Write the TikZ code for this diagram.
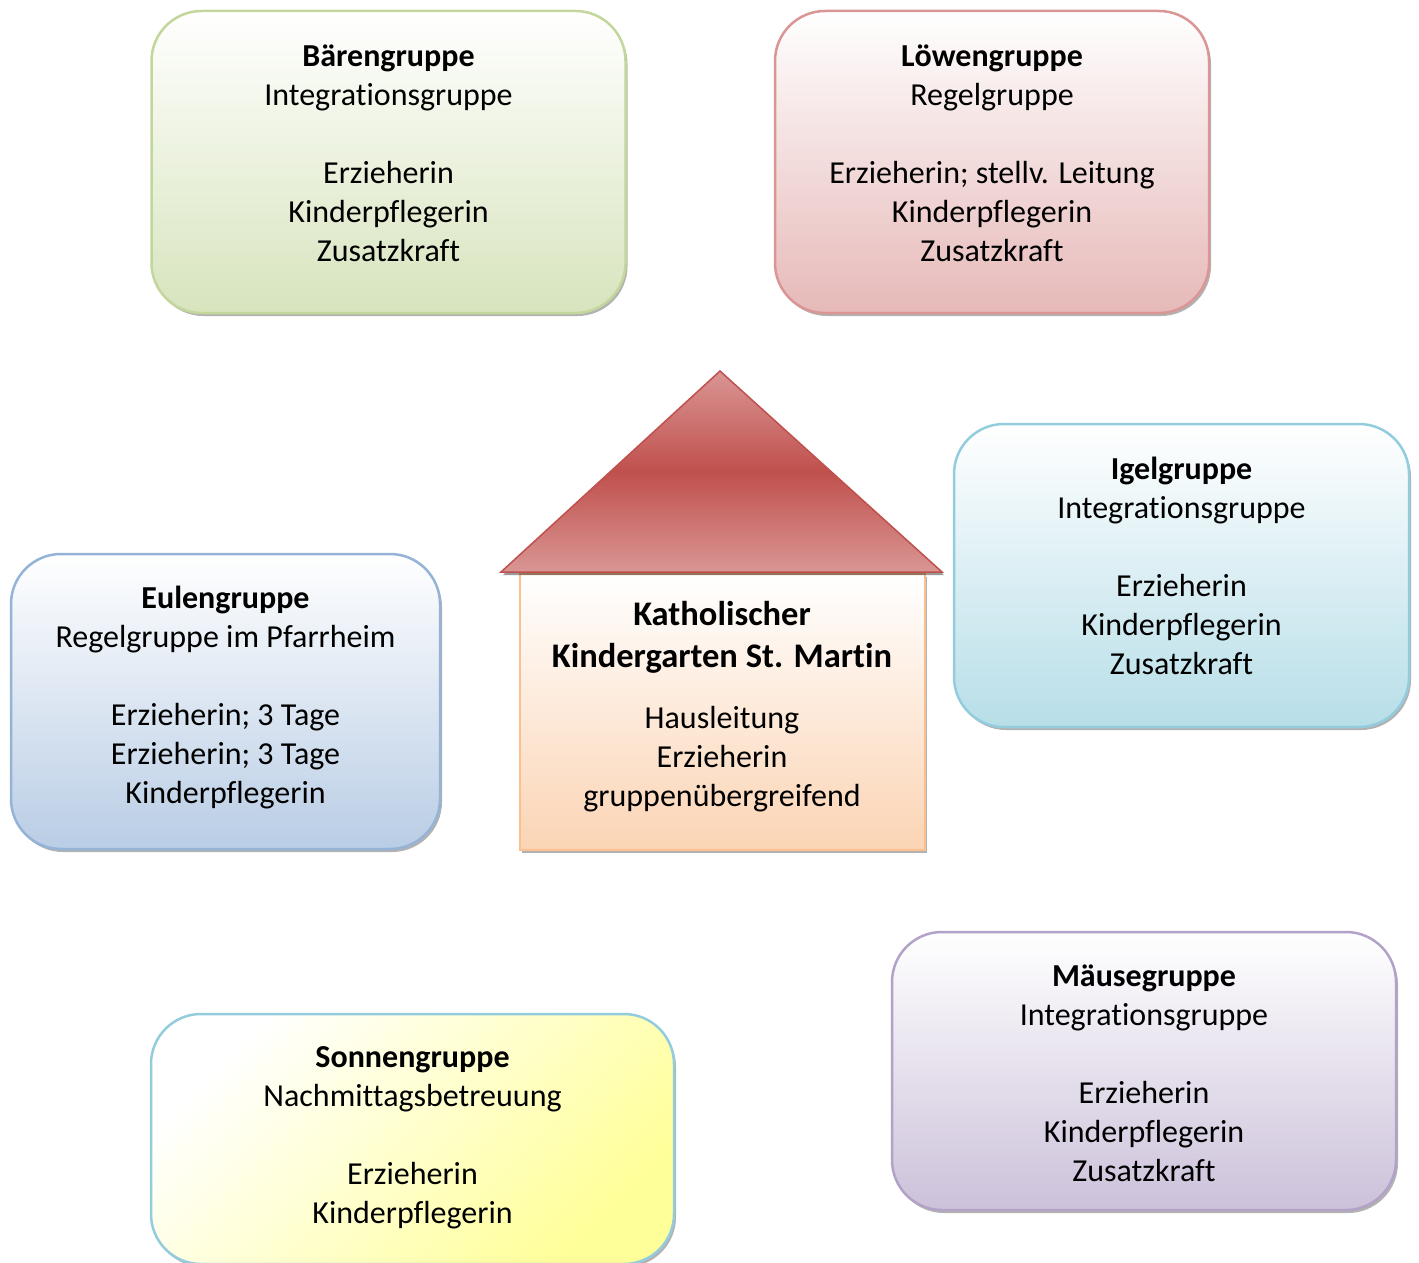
\documentclass[tikz,border=0pt]{standalone}
\usepackage{fontspec}
\setmainfont{Carlito}[Ligatures=NoCommon]
\usetikzlibrary{shadows}
\definecolor{baerline}{HTML}{C3D69B}\definecolor{baerfill}{HTML}{D7E4BD}
\definecolor{loeweline}{HTML}{D99694}\definecolor{loewefill}{HTML}{E6B9B8}
\definecolor{igelline}{HTML}{93CDDD}\definecolor{igelfill}{HTML}{B7DEE8}
\definecolor{euleline}{HTML}{95B3D7}\definecolor{eulefill}{HTML}{B9CDE5}
\definecolor{mausline}{HTML}{B3A2C7}\definecolor{mausfill}{HTML}{CCC1DA}
\definecolor{sonneline}{HTML}{93CDDD}\definecolor{sonnefill}{HTML}{FFFF99}
\definecolor{hausline}{HTML}{FAC090}\definecolor{hausfill}{HTML}{FBD4B4}
\definecolor{dachdark}{HTML}{C0504D}\definecolor{dachlight}{HTML}{D99694}
\tikzset{
  grp/.style={draw=#1line,rounded corners=50pt,line width=2.5pt,inner sep=0pt,
    top color=white,bottom color=#1fill,
    drop shadow={shadow xshift=2pt,shadow yshift=-3pt,fill=black,opacity=0.3}},
  txt/.style={align=center,inner sep=0pt,font=\fontsize{32}{39}\selectfont},
  ttl/.style={align=center,inner sep=0pt,font=\fontsize{34.5}{42}\selectfont\bfseries},
}
\begin{document}
\begin{tikzpicture}[x=1pt,y=-1pt]
\useasboundingbox (0,0) rectangle (1419,1263);
% gruppen
\node[grp=baer,minimum width=474pt,minimum height=302pt] (baer) at (388.5,162){};
\node[txt] (baertxt) at ([yshift=9pt]baer.center){\textbf{Bärengruppe}\\Integrationsgruppe\\[39pt]Erzieherin\\Kinderpflegerin\\Zusatzkraft};
\node[grp=loewe,minimum width=434pt,minimum height=302pt] (loewe) at (992,162){};
\node[txt] (loewetxt) at ([yshift=9pt]loewe.center){\textbf{Löwengruppe}\\Regelgruppe\\[39pt]Erzieherin; stellv. Leitung\\Kinderpflegerin\\Zusatzkraft};
\node[grp=igel,minimum width=455pt,minimum height=303pt] (igel) at (1181.5,575.5){};
\node[txt] (igeltxt) at ([yshift=10pt]igel.center){\textbf{Igelgruppe}\\Integrationsgruppe\\[39pt]Erzieherin\\Kinderpflegerin\\Zusatzkraft};
\node[grp=eule,minimum width=429pt,minimum height=295pt] (eule) at (225.5,701.5){};
\node[txt] (euletxt) at ([yshift=4pt]eule.center){\textbf{Eulengruppe}\\Regelgruppe im Pfarrheim\\[39pt]Erzieherin; 3 Tage\\Erzieherin; 3 Tage\\Kinderpflegerin};
\node[grp=maus,minimum width=504pt,minimum height=278pt] (maus) at (1144,1071){};
\node[txt] (maustxt) at ([yshift=-2pt]maus.center){\textbf{Mäusegruppe}\\Integrationsgruppe\\[39pt]Erzieherin\\Kinderpflegerin\\Zusatzkraft};
\node[grp=sonne,shading angle=45,minimum width=523pt,minimum height=250pt] (sonne) at (412.5,1139){};
\node[txt] (sonnetxt) at ([yshift=1pt]sonne.center){\textbf{Sonnengruppe}\\Nachmittagsbetreuung\\[39pt]Erzieherin\\Kinderpflegerin};
% haus
\node[draw=hausline,line width=2.5pt,inner sep=0pt,top color=white,bottom color=hausfill,
  drop shadow={shadow xshift=2pt,shadow yshift=-3pt,fill=black,opacity=0.3},
  minimum width=405pt,minimum height=276pt] (haus) at (722.5,712){};
\coordinate (dachl) at (501,572); \coordinate (dachtop) at (720,371); \coordinate (dachr) at (942,572);
\path[draw=dachdark,line width=1.5pt,top color=dachlight,bottom color=dachlight,middle color=dachdark,
  drop shadow={shadow xshift=2pt,shadow yshift=-3pt,fill=black,opacity=0.4}]
  (dachl) -- (dachtop) -- (dachr) -- cycle;
\node[ttl] (haustitel) at (722,637){Katholischer\\Kindergarten St. Martin};
\node[txt] (haustxt) at (722,759){Hausleitung\\Erzieherin\\gruppenübergreifend};
\end{tikzpicture}
\end{document}
